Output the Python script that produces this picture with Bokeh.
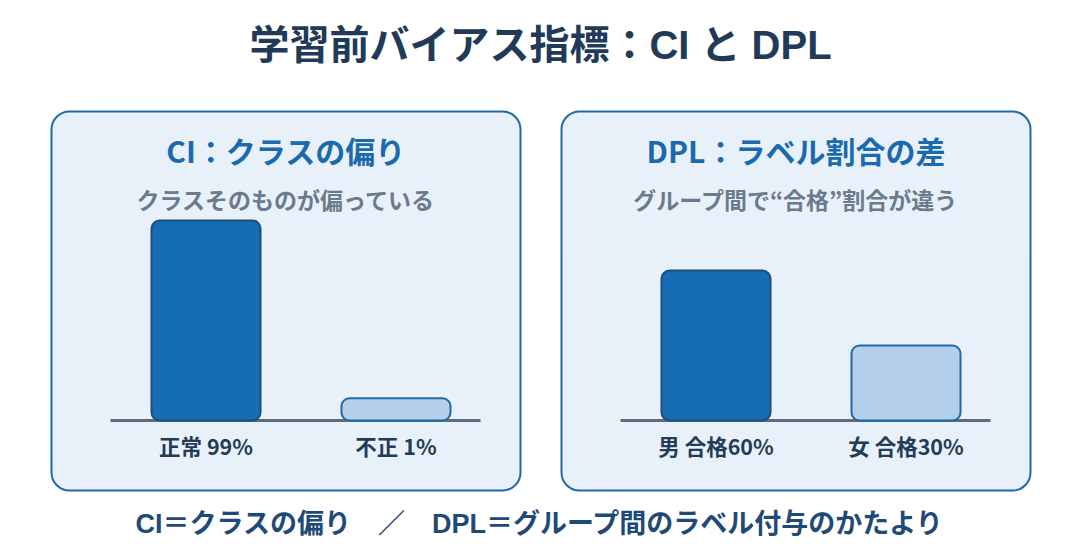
from bokeh.plotting import figure
from bokeh.models import Range1d, BoxAnnotation, ColumnDataSource
from bokeh.core.properties import value
from bokeh.embed import file_html
from bokeh.resources import INLINE

# ---- data ----
title = "学習前バイアス指標：CI と DPL"
ci_title = "CI：クラスの偏り"
ci_sub = "クラスそのものが偏っている"
ci_classes = ["正常", "不正"]
ci_values = [99, 1]
dpl_title = "DPL：ラベル割合の差"
dpl_sub = "グループ間で“合格”割合が違う"
dpl_groups = ["男", "女"]
dpl_pass_rates = [60, 30]
footer = "CI＝クラスの偏り　／　DPL＝グループ間のラベル付与のかたより"

FONT = value("Noto Sans CJK JP")
FONT_MIX = value("'Liberation Sans', 'Noto Sans CJK JP'")
W, H = 1080, 560

p = figure(width=W, height=H, x_range=Range1d(0, W), y_range=Range1d(H, 0),
           x_axis_type=None, y_axis_type=None, toolbar_location=None,
           output_backend="svg", min_border=0, outline_line_color=None,
           background_fill_color="white", border_fill_color="white")
p.grid.visible = False

# panels
for left, right in [(51, 520), (561, 1030)]:
    p.add_layout(BoxAnnotation(left=left, right=right, top=111, bottom=490,
                               fill_color="#e8f1fa", fill_alpha=1.0,
                               line_color="#1f6aa5", line_width=2, line_alpha=1.0,
                               border_radius=18, level="underlay"))

# texts
p.text(x=[540], y=[44], text=[title], text_font=FONT_MIX, text_font_size="40px",
       text_font_style="bold", text_color="#213a57", text_align="center",
       text_baseline="middle")
p.text(x=[285.5, 795.5], y=[149, 149], text=[ci_title, dpl_title], text_font=FONT,
       text_font_size="30px", text_font_style="bold", text_color="#1a6aad",
       text_align="center", text_baseline="middle")
p.text(x=[285.5, 795.5], y=[198, 198], text=[ci_sub, dpl_sub], text_font=FONT,
       text_font_size="23px", text_font_style="bold", text_color="#6b7a8c",
       text_align="center", text_baseline="middle")
p.text(x=[540], y=[523], text=[footer], text_font=FONT_MIX, text_font_size="27px",
       text_font_style="bold", text_color="#1f4a78", text_align="center",
       text_baseline="middle")

# bar panels: each with its own x/y ranges through which data are mapped
BASE_FROM_BOTTOM = 140  # baseline position in frame px from bottom
SPACING = 190


def panel(name, cats, vals, first_center, px_per_unit, min_vis, base_x0, base_x1, labels):
    s = px_per_unit
    p.extra_y_ranges[name + "_y"] = Range1d(-BASE_FROM_BOTTOM / s, (H - BASE_FROM_BOTTOM) / s)
    p.extra_x_ranges[name + "_x"] = Range1d(-first_center / SPACING, (W - first_center) / SPACING)
    idx = list(range(len(cats)))
    shown = [max(v, min_vis) for v in vals]
    src = ColumnDataSource(dict(x=idx, top=shown, label=labels,
                                fill=["#176db4", "#b4cfe9"],
                                line=["#1f4e79", "#1f6aa5"]))
    p.segment(x0=[base_x0], x1=[base_x1], y0=[0], y1=[0], y_range_name=name + "_y",
              line_color="#5f6b7b", line_width=3)
    p.vbar(x="x", top="top", bottom=0, width=109 / SPACING, source=src,
           x_range_name=name + "_x", y_range_name=name + "_y",
           fill_color="fill", line_color="line", line_width=2, border_radius=8)
    p.text(x="x", y=445, text="label", source=src, x_range_name=name + "_x",
           text_font=FONT, text_font_size="21.5px", text_font_style="bold",
           text_color="#243b55", text_align="center", text_baseline="middle")


panel("ci", ci_classes, ci_values, 205.5, 200 / 99, 11, 110, 480,
      [f"{c} {v}%" for c, v in zip(ci_classes, ci_values)])
panel("dpl", dpl_groups, dpl_pass_rates, 715.5, 150 / 60, 0, 620, 990,
      [f"{g} 合格{v}%" for g, v in zip(dpl_groups, dpl_pass_rates)])

open("out.html", "w").write(file_html(p, INLINE))
